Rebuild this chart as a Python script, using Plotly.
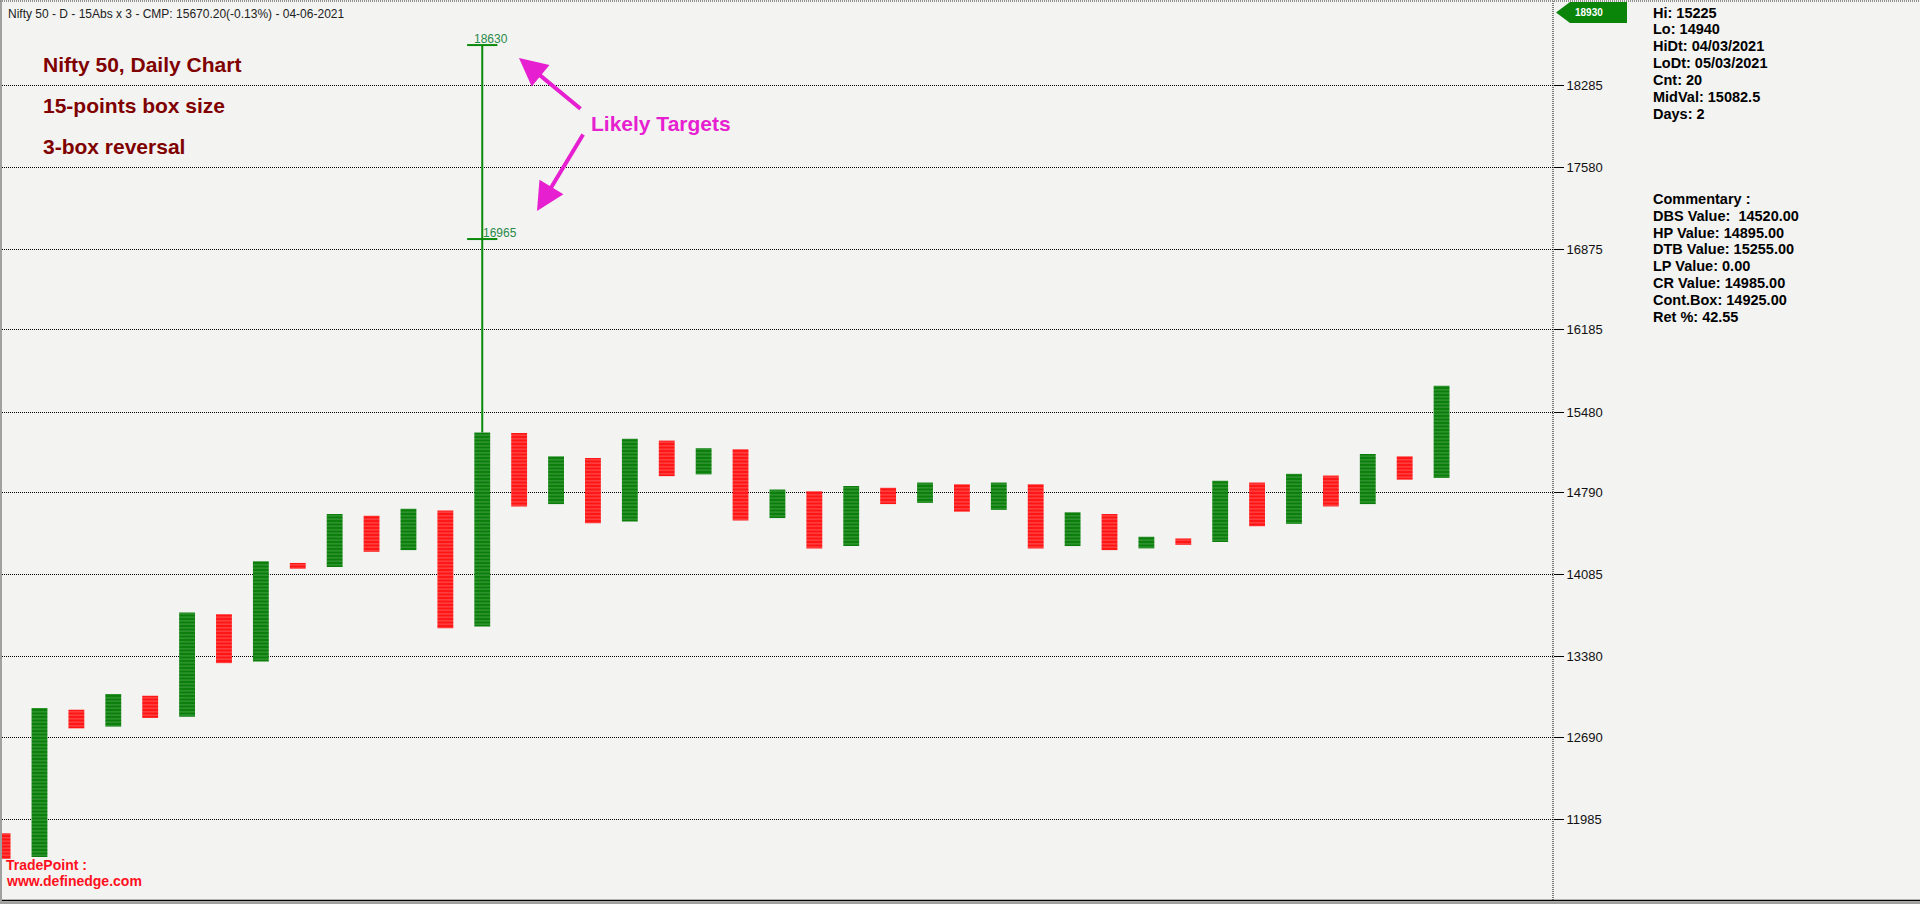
import plotly.graph_objects as go

# ---------------- data ----------------
col_index = list(range(40))
col_kind = ["O" if i % 2 == 0 else "X" for i in col_index]
col_high = [11865, 12940, 12925, 13060, 13045, 13760, 13745, 14200, 14185, 14605,
            14590, 14650, 14635, 15305, 15300, 15100, 15085, 15250, 15235, 15170,
            15160, 14815, 14800, 14845, 14830, 14875, 14860, 14875, 14860, 14620,
            14605, 14410, 14395, 14890, 14875, 14950, 14935, 15120, 15100, 15705]
col_low = [11645, 11660, 12765, 12780, 12855, 12865, 13325, 13340, 14135, 14150,
           14280, 14295, 13625, 13640, 14670, 14690, 14525, 14540, 14930, 14945,
           14550, 14570, 14310, 14330, 14690, 14700, 14625, 14640, 14310, 14330,
           14295, 14310, 14340, 14365, 14500, 14520, 14670, 14690, 14900, 14915]

y_tick_values = [11985, 12690, 13380, 14085, 14790, 15480, 16185, 16875, 17580, 18285]
target_column = 13
target_values = [16965, 18630]
target_label_shift = [0, -9]
top_value_label = "18930"

chart_title = "Nifty 50 - D - 15Abs x 3 - CMP: 15670.20(-0.13%) - 04-06-2021"
notes = ["Nifty 50, Daily Chart", "15-points box size", "3-box reversal"]
stats_lines = ["Hi: 15225", "Lo: 14940", "HiDt: 04/03/2021", "LoDt: 05/03/2021",
               "Cnt: 20", "MidVal: 15082.5", "Days: 2"]
commentary_lines = ["Commentary :", "DBS Value: \u00a014520.00", "HP Value: 14895.00",
                    "DTB Value: 15255.00", "LP Value: 0.00", "CR Value: 14985.00",
                    "Cont.Box: 14925.00", "Ret %: 42.55"]
footer_lines = ["TradePoint :", "www.definedge.com"]

# ---------------- geometry helpers (pixel -> paper) ----------------
W, H = 1920, 904
L, R, T, B = 2, 367, 3, 4
PW = W - L - R
PH = H - T - B


def px(x):
    return (x - L) / PW


def py(y):
    return (H - B - y) / PH


BG = "#f3f3f1"
GREEN = "#0a7d0a"
GREEN_LT = "#7cc47c"
RED = "#ff1414"
RED_LT = "#ff9c9c"
DARKRED = "#800000"
MAGENTA = "#e61fd0"

fig = go.Figure()

for kind, color, light in (("X", GREEN, GREEN_LT), ("O", RED, RED_LT)):
    xs = [i for i, k in zip(col_index, col_kind) if k == kind]
    hi = [h for h, k in zip(col_high, col_kind) if k == kind]
    lo = [l for l, k in zip(col_low, col_kind) if k == kind]
    fig.add_trace(go.Bar(
        x=xs, y=[h - l for h, l in zip(hi, lo)], base=lo, width=0.43,
        marker=dict(color=color, line=dict(width=0),
                    pattern=dict(shape="-", fillmode="overlay", fgcolor=light,
                                 size=3.5, solidity=0.3)),
        showlegend=False, hoverinfo="skip"))

# target count line
fig.add_trace(go.Scatter(
    x=[target_column, target_column],
    y=[col_high[target_column], max(target_values)],
    mode="lines", line=dict(color="#0a8a0a", width=2),
    showlegend=False, hoverinfo="skip"))
tx, ty = [], []
for v in target_values:
    tx += [target_column - 0.41, target_column + 0.41, None]
    ty += [v, v, None]
fig.add_trace(go.Scatter(x=tx, y=ty, mode="lines",
                         line=dict(color="#0a8a0a", width=2),
                         showlegend=False, hoverinfo="skip"))

ann = []
for v, sh in zip(target_values, target_label_shift):
    ann.append(dict(x=target_column, y=v, xref="x", yref="y", text=str(v),
                    showarrow=False, xanchor="left", yanchor="bottom",
                    xshift=sh - 1, yshift=-3,
                    font=dict(family="Liberation Sans, Arial", size=12, color="#2a8a4a")))

# title
ann.append(dict(x=px(6), y=py(14), xref="paper", yref="paper", text=chart_title,
                showarrow=False, xanchor="left", yanchor="middle",
                font=dict(family="Liberation Sans, Arial", size=12, color="#222222")))

NOTE_FONT = "Liberation Sans, Arial, sans-serif"
for txt, yc in zip(notes, [64, 105, 146]):
    ann.append(dict(x=px(41), y=py(yc), xref="paper", yref="paper", text=txt,
                    showarrow=False, xanchor="left", yanchor="middle",
                    font=dict(family=NOTE_FONT, size=21, color=DARKRED, weight="bold")))

ann.append(dict(x=px(589), y=py(124), xref="paper", yref="paper", text="Likely Targets",
                showarrow=False, xanchor="left", yanchor="middle",
                font=dict(family=NOTE_FONT, size=21, color=MAGENTA, weight="bold")))
for hx, hy, tx_, ty_ in ((519, 58, 582, 110), (537, 211, 584, 133)):
    ann.append(dict(x=px(hx), y=py(hy), xref="paper", yref="paper", text="",
                    showarrow=True, ax=tx_ - hx, ay=ty_ - hy,
                    arrowhead=2, arrowsize=1.4, arrowwidth=4, arrowcolor=MAGENTA))

# right panel
for i, txt in enumerate(stats_lines):
    ann.append(dict(x=px(1651), y=py(12.5 + i * 16.9), xref="paper", yref="paper",
                    text=txt, showarrow=False, xanchor="left", yanchor="middle",
                    font=dict(family="Liberation Sans, Arial", size=14.5, color="#000000",
                              weight="bold")))
for i, txt in enumerate(commentary_lines):
    ann.append(dict(x=px(1651), y=py(199 + i * 16.8), xref="paper", yref="paper",
                    text=txt, showarrow=False, xanchor="left", yanchor="middle",
                    font=dict(family="Liberation Sans, Arial", size=14.5, color="#000000",
                              weight="bold")))

# footer
for txt, yc in zip(footer_lines, [865, 881]):
    ann.append(dict(x=px(4), y=py(yc), xref="paper", yref="paper", text=txt,
                    showarrow=False, xanchor="left", yanchor="middle",
                    font=dict(family="Liberation Sans, Arial", size=14, color="#ff1020",
                              weight="bold")))

# flag label at axis top
ann.append(dict(x=px(1589), y=py(12.5), xref="paper", yref="paper", text=top_value_label,
                showarrow=False, xanchor="center", yanchor="middle",
                font=dict(family="Liberation Sans, Arial", size=10, color="#ffffff",
                          weight="bold")))

shapes = [
    # right axis dotted line
    dict(type="line", xref="paper", yref="paper", x0=1, x1=1, y0=0, y1=py(0),
         line=dict(color="#000000", width=1, dash="1px,1px")),
    # flag
    dict(type="path", xref="paper", yref="paper",
         path=(f"M {px(1556)},{py(12.5)} L {px(1570)},{py(2)} L {px(1627)},{py(2)} "
               f"L {px(1627)},{py(23)} L {px(1570)},{py(23)} Z"),
         fillcolor="#0a850a", line=dict(width=0)),
    # borders
    dict(type="line", xref="paper", yref="paper", x0=px(0), x1=px(W), y0=py(900.5), y1=py(900.5),
         line=dict(color="#000000", width=1.5)),
    dict(type="rect", xref="paper", yref="paper", x0=px(0), x1=px(W), y0=py(904), y1=py(901.5),
         fillcolor="#a0a0a0", line=dict(width=0)),
    dict(type="rect", xref="paper", yref="paper", x0=px(0), x1=px(2), y0=py(904), y1=py(0),
         fillcolor="#a0a0a0", line=dict(width=0)),
    dict(type="line", xref="paper", yref="paper", x0=px(0), x1=px(W), y0=py(1), y1=py(1),
         line=dict(color="#909090", width=2, dash="1px,1px")),
]

fig.update_layout(
    width=W, height=H, autosize=False,
    margin=dict(l=L, r=R, t=T, b=B, pad=0),
    paper_bgcolor=BG, plot_bgcolor=BG,
    barmode="overlay", showlegend=False,
    xaxis=dict(visible=False, range=[-0.016, 42.02], fixedrange=True),
    yaxis=dict(side="right", range=[11292, 18991], tickvals=y_tick_values,
               ticktext=[str(v) for v in y_tick_values],
               ticks="outside", ticklen=10, tickwidth=1, tickcolor="#000000",
               showgrid=True, gridcolor="#000000", gridwidth=1, griddash="1px,1px",
               zeroline=False, showline=False, fixedrange=True,
               tickfont=dict(family="Liberation Sans, Arial", size=13, color="#111111")),
    annotations=ann, shapes=shapes,
)

fig.write_html(
    "out.html",
    config={"displayModeBar": False},
    post_script="document.body.style.margin='0px';document.body.style.padding='0px';"
                "document.body.style.overflow='hidden';",
)
